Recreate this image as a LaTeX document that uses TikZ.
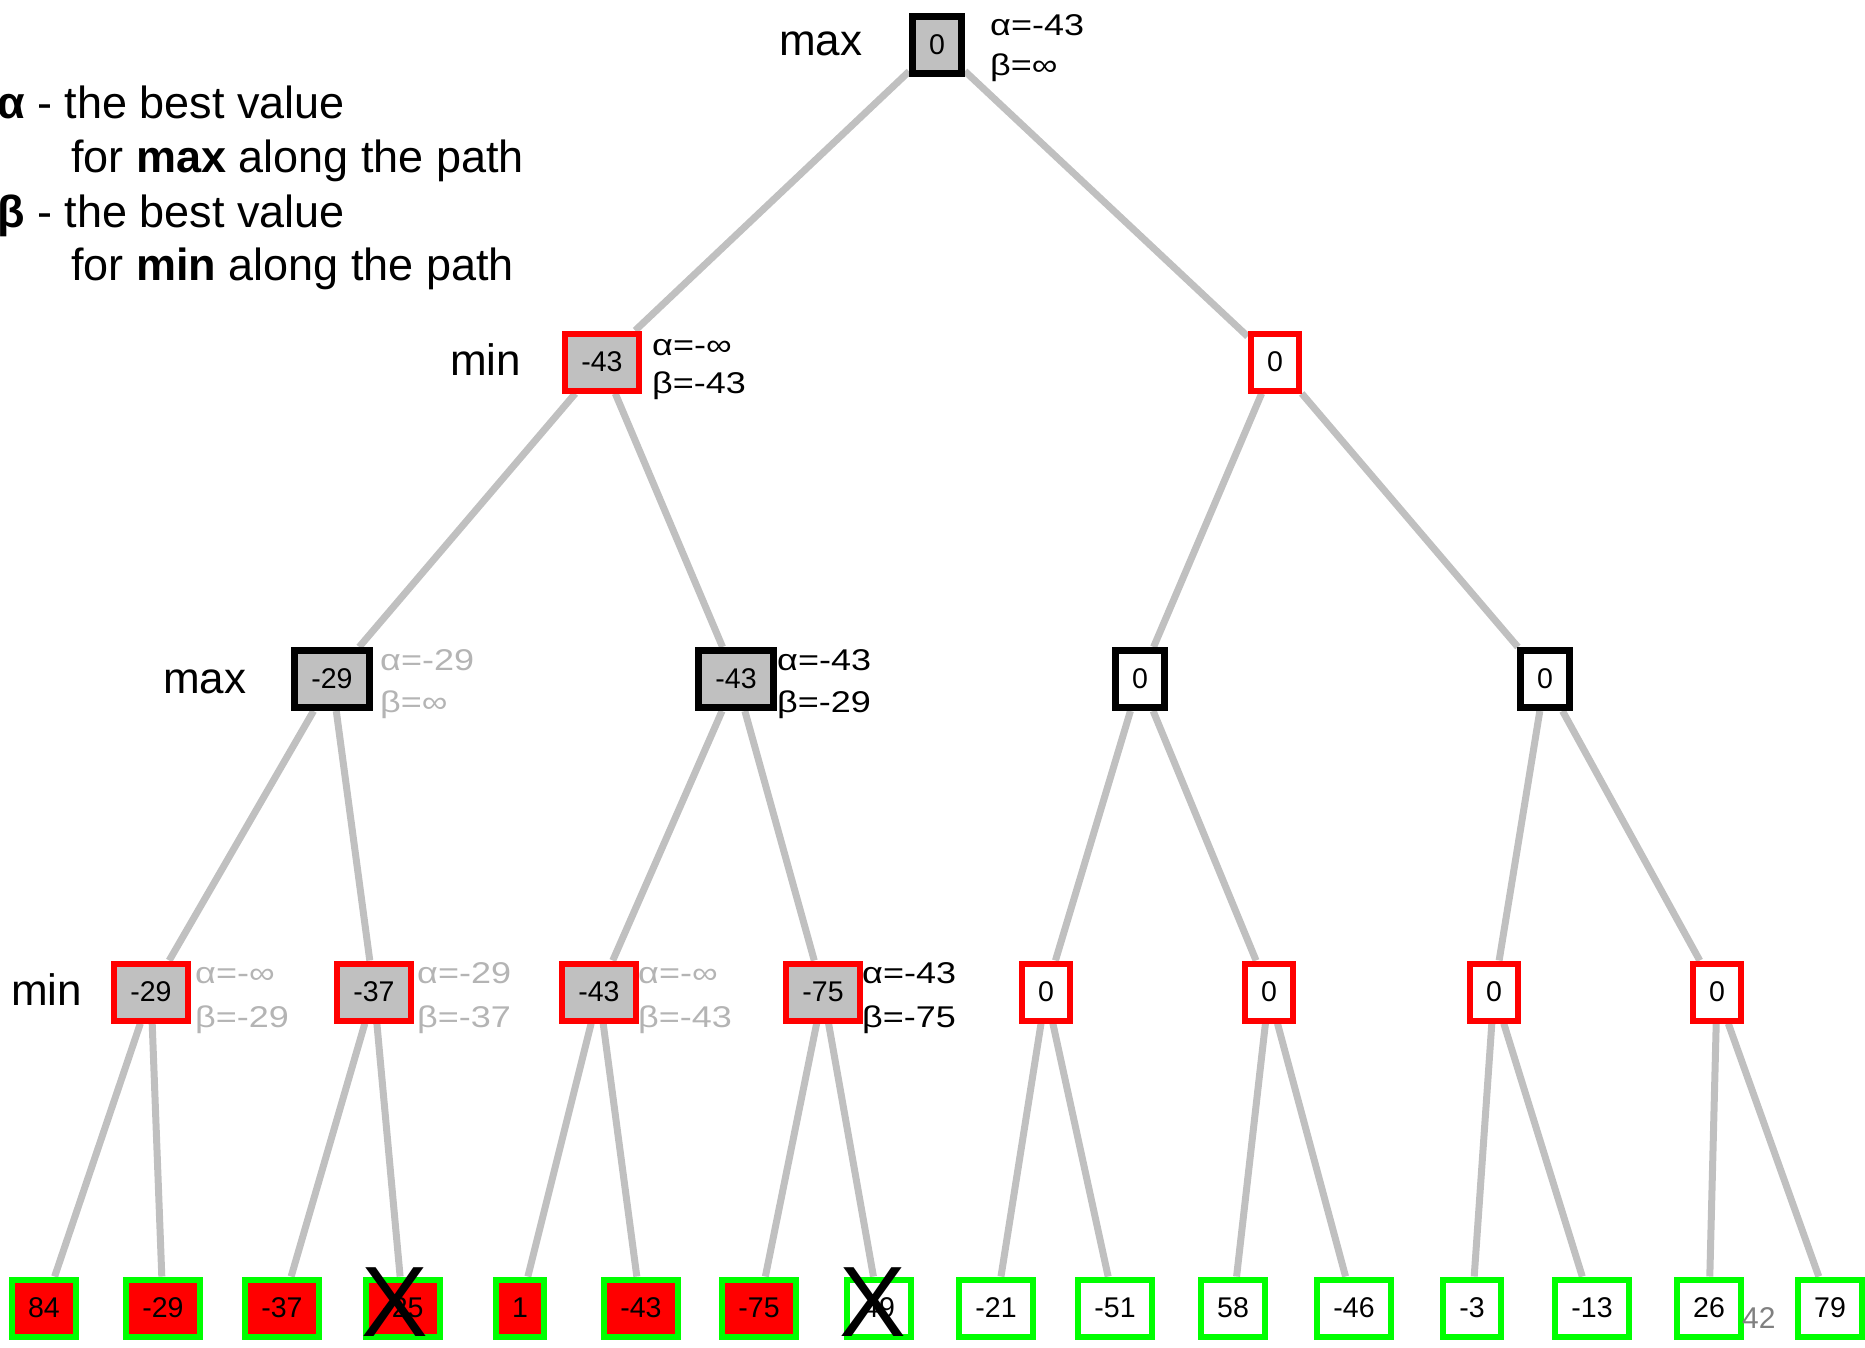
\documentclass[tikz,border=0pt]{standalone}
\usepackage{fontspec}
\setmainfont{Liberation Sans}
\newfontfamily\abfont[FakeStretch=1.2]{Liberation Sans}
\usepackage{xcolor}
\usepackage{tikz}
\usetikzlibrary{backgrounds}
\definecolor{nodegray}{RGB}{192,192,192}
\definecolor{edgegray}{RGB}{192,192,192}
\definecolor{stalegray}{RGB}{180,180,180}
\definecolor{pagegray}{RGB}{128,128,128}
\tikzset{
	box/.style={rectangle,draw,line width=6pt,minimum height=57pt,inner xsep=16.5pt,inner ysep=0pt,
		font=\fontsize{28.5}{30}\selectfont},
	maxbox/.style={box,draw=black,line width=7pt,fill=white},
	minbox/.style={box,draw=red,fill=white},
	leafbox/.style={box,draw=green,fill=white},
	seen/.style={fill=nodegray},
	cut/.style={fill=red},
	ab/.style={anchor=base west,inner sep=0pt,font=\abfont\fontsize{30}{34}\selectfont},
	stale/.style={text=stalegray},
	lvl/.style={anchor=base west,inner sep=0pt,font=\fontsize{44}{52}\selectfont},
	legend/.style={anchor=base west,inner sep=0pt,font=\fontsize{45}{52}\selectfont},
	cross/.style={inner sep=0pt,font=\fontsize{100}{100}\selectfont}
}
\begin{document}
\begin{tikzpicture}[x=1pt,y=-1pt]
	\useasboundingbox (0,0) rectangle (1865,1347);
	
	% legend
	\node[legend] (l1) at (-3,118) {\textbf{α} - the best value};
	\node[legend] (l2) at (71,172) {for \textbf{max} along the path};
	\node[legend] (l3) at (-3,227) {\textbf{β} - the best value};
	\node[legend] (l4) at (71,280) {for \textbf{min} along the path};
	
	% level names
	\node[lvl] (n0) at (779,55) {max};
	\node[lvl] (n1) at (450,375) {min};
	\node[lvl] (n2) at (163,693) {max};
	\node[lvl] (n3) at (11,1005) {min};
	
	% tree
	\node[maxbox,seen] (R) at (937,45) {0};
	
	\node[minbox,seen] (A) at (602,362) {-43};
	\node[minbox] (B) at (1275,362) {0};
	
	\node[maxbox,seen] (AA) at (332,679) {-29};
	\node[maxbox,seen] (AB) at (736,679) {-43};
	\node[maxbox] (BA) at (1140,679) {0};
	\node[maxbox] (BB) at (1545,679) {0};
	
	\node[minbox,seen] (AAA) at (151,992) {-29};
	\node[minbox,seen] (AAB) at (374,992) {-37};
	\node[minbox,seen] (ABA) at (599,992) {-43};
	\node[minbox,seen] (ABB) at (823,992) {-75};
	\node[minbox] (BAA) at (1046,992) {0};
	\node[minbox] (BAB) at (1269,992) {0};
	\node[minbox] (BBA) at (1494,992) {0};
	\node[minbox] (BBB) at (1717,992) {0};
	
	% leaves
	\node[leafbox,cut] (L1) at (44,1308) {84};
	\node[leafbox,cut] (L2) at (163,1308) {-29};
	\node[leafbox,cut] (L3) at (282,1308) {-37};
	\node[leafbox,cut] (L4) at (403,1308) {-25};
	\node[leafbox,cut] (L5) at (520,1308) {1};
	\node[leafbox,cut] (L6) at (641,1308) {-43};
	\node[leafbox,cut] (L7) at (759,1308) {-75};
	\node[leafbox] (L8) at (879,1308) {49};
	\node[leafbox] (L9) at (996,1308) {-21};
	\node[leafbox] (L10) at (1115,1308) {-51};
	\node[leafbox] (L11) at (1233,1308) {58};
	\node[leafbox] (L12) at (1354,1308) {-46};
	\node[leafbox] (L13) at (1472,1308) {-3};
	\node[leafbox] (L14) at (1592,1308) {-13};
	\node[leafbox] (L15) at (1709,1308) {26};
	\node[leafbox] (L16) at (1830,1308) {79};
	
	% pruned
	\node[cross] (X1) at (395,1302) {X};
	\node[cross] (X2) at (873,1302) {X};
	
	% alpha / beta
	\node[ab] (Ra) at (990,35) {α=-43};
	\node[ab] (Rb) at (990,75) {β=∞};
	\node[ab] (Aa) at (652,355) {α=-∞};
	\node[ab] (Ab) at (652,393) {β=-43};
	\node[ab,stale] (AAa) at (380,670) {α=-29};
	\node[ab,stale] (AAb) at (380,712) {β=∞};
	\node[ab] (ABa) at (777,670) {α=-43};
	\node[ab] (ABb) at (777,712) {β=-29};
	\node[ab,stale] (AAAa) at (195,983) {α=-∞};
	\node[ab,stale] (AAAb) at (195,1027) {β=-29};
	\node[ab,stale] (AABa) at (417,983) {α=-29};
	\node[ab,stale] (AABb) at (417,1027) {β=-37};
	\node[ab,stale] (ABAa) at (638,983) {α=-∞};
	\node[ab,stale] (ABAb) at (638,1027) {β=-43};
	\node[ab] (ABBa) at (862,983) {α=-43};
	\node[ab] (ABBb) at (862,1027) {β=-75};
	
	\node[anchor=base west,inner sep=0pt,text=pagegray,font=\fontsize{30}{34}\selectfont] (pg) at (1742,1328) {42};
	
	\begin{scope}[on background layer,every path/.style={draw=edgegray,line width=7pt}]
		\path (R) edge (A) (R) edge (B);
		\path (A) edge (AA) (A) edge (AB);
		\path (B) edge (BA) (B) edge (BB);
		\path (AA) edge (AAA) (AA) edge (AAB);
		\path (AB) edge (ABA) (AB) edge (ABB);
		\path (BA) edge (BAA) (BA) edge (BAB);
		\path (BB) edge (BBA) (BB) edge (BBB);
		\path (AAA) edge (L1) (AAA) edge (L2);
		\path (AAB) edge (L3) (AAB) edge (L4);
		\path (ABA) edge (L5) (ABA) edge (L6);
		\path (ABB) edge (L7) (ABB) edge (L8);
		\path (BAA) edge (L9) (BAA) edge (L10);
		\path (BAB) edge (L11) (BAB) edge (L12);
		\path (BBA) edge (L13) (BBA) edge (L14);
		\path (BBB) edge (L15) (BBB) edge (L16);
	\end{scope}
\end{tikzpicture}
\end{document}
